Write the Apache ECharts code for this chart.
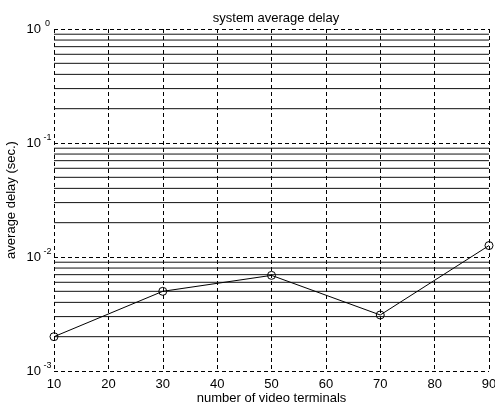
<!DOCTYPE html>
<html>
<head>
<meta charset="utf-8">
<script src="https://cdn.jsdelivr.net/npm/echarts@6/dist/echarts.min.js"></script>
<style>
  html, body { margin: 0; padding: 0; background: #fff; }
  #chart { width: 495px; height: 412px; }
</style>
</head>
<body>
<div id="chart"></div>
<script>
// Number of video terminals and the measured average delay (seconds)
const terminals = [10, 30, 50, 70, 90];
const avgDelay = [0.002, 0.005, 0.0069, 0.0031, 0.0126];

// Decades spanned by the log axis and the mantissas of the minor grid lines
const decades = [0.001, 0.01, 0.1];
const minorMantissas = [2, 3, 4, 5, 6, 7, 8, 9];

const X_MIN = 10, X_MAX = 90;
const FONT = 'Liberation Sans, Arial, Helvetica, sans-serif';

// Solid minor grid lines at 2..9 times each decade, spanning the full x range
const minorSeries = [];
decades.forEach(d => minorMantissas.forEach(m => {
  const v = +(d * m).toPrecision(3);
  minorSeries.push({
    type: 'line',
    data: [[X_MIN, v], [X_MAX, v]],
    symbol: 'none',
    silent: true,
    lineStyle: { color: '#111', width: 1 },
    z: 1
  });
}));

const chart = echarts.init(document.getElementById('chart'), null, { renderer: 'canvas' });
chart.setOption({
  animation: false,
  backgroundColor: '#fff',
  title: {
    text: 'system average delay',
    left: 271,
    textAlign: 'center',
    top: 7,
    textStyle: { fontFamily: FONT, fontSize: 13, fontWeight: 'normal', color: '#000' }
  },
  grid: { left: 54, right: 6, top: 29, bottom: 41, outerBoundsMode: 'none', containLabel: false },
  xAxis: {
    type: 'value',
    min: X_MIN,
    max: X_MAX,
    interval: 10,
    name: 'number of video terminals',
    nameLocation: 'middle',
    nameGap: 21,
    nameMoveOverlap: false,
    nameTextStyle: { fontFamily: FONT, fontSize: 13, color: '#000' },
    axisLine: { show: false },
    axisTick: { show: false },
    axisLabel: { fontFamily: FONT, fontSize: 13, color: '#000', margin: 7 },
    splitLine: { show: true, lineStyle: { color: '#000', width: 1, type: [4, 3] } }
  },
  yAxis: {
    type: 'log',
    logBase: 10,
    min: 0.001,
    max: 1,
    name: 'average delay (sec.)',
    nameLocation: 'middle',
    nameGap: 36,
    nameMoveOverlap: false,
    nameTextStyle: { fontFamily: FONT, fontSize: 13, color: '#000' },
    axisLine: { show: false },
    axisTick: { show: false },
    axisLabel: {
      margin: 1,
      formatter: v => '{b|10}{s|' + Math.round(Math.log10(v)) + '}',
      rich: {
        b: { fontFamily: FONT, fontSize: 13, color: '#000', verticalAlign: 'bottom', lineHeight: 14 },
        s: { fontFamily: FONT, fontSize: 9, color: '#000', verticalAlign: 'bottom', align: 'left', width: 11, padding: [0, 0, 8, 1], lineHeight: 14 }
      }
    },
    splitLine: { show: true, lineStyle: { color: '#000', width: 1, type: [4, 3] } }
  },
  series: minorSeries.concat([
    {
      type: 'line',
      data: terminals.map((t, i) => [t, avgDelay[i]]),
      symbol: 'circle',
      symbolSize: 8,
      showAllSymbol: true,
      lineStyle: { color: '#000', width: 1 },
      itemStyle: { color: 'rgba(0,0,0,0)', borderColor: '#000', borderWidth: 1 },
      z: 5
    }
  ])
});
</script>
</body>
</html>
